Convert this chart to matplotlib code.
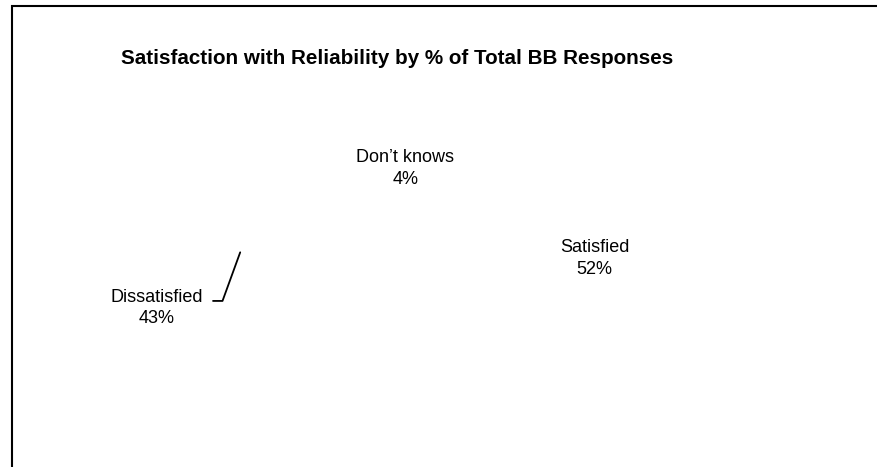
import matplotlib.pyplot as plt
import numpy as np
from matplotlib.patches import Rectangle

plt.rcParams['font.family'] = ['Liberation Sans', 'DejaVu Sans']

labels = ['Satisfied', 'Dissatisfied', 'Don\u2019t knows']
values = [52, 43, 4]
label_dist = [1.03, None, 0.435]

W, H = 877, 467
fig = plt.figure(figsize=(W / 100, H / 100), dpi=100)

# frame round the chart area (open on right and bottom)
fig.patches.append(Rectangle((12 / W, -0.2), 1.2, (H - 6) / H + 0.2,
                             transform=fig.transFigure, fill=False,
                             edgecolor='black', linewidth=1.5))

fig.text(121 / W, 1 - 58 / H, 'Satisfaction with Reliability by % of Total BB Responses',
         fontsize=14.9, fontweight='bold', ha='left', va='center')

# pie centre ~ (415, 244) px, radius 175 px
cx, cy, R = 415, 244, 175
box = 400
ax = fig.add_axes([(cx - box / 2) / W, (H - cy - box / 2) / H, box / W, box / H])

wedges, _ = ax.pie(values, startangle=90, counterclock=False,
                   colors=['white'] * len(values),
                   wedgeprops=dict(linewidth=0))
lim = box / 2 / R
ax.set_xlim(-lim, lim)
ax.set_ylim(-lim, lim)
ax.set_aspect('auto')
ax.axis('off')

for w, lab, v, d in zip(wedges, labels, values, label_dist):
    mid = np.deg2rad((w.theta1 + w.theta2) / 2)
    txt = f'{lab}\n{v}%'
    if d is not None:
        ax.text(d * np.cos(mid), d * np.sin(mid), txt, ha='center', va='center',
                fontsize=13, linespacing=1.35)
    else:
        edge = (np.cos(mid), np.sin(mid))
        ax.annotate(txt, xy=edge, xytext=(-1.474, -0.365), textcoords='data',
                    ha='center', va='center', fontsize=13, linespacing=1.35,
                    arrowprops=dict(arrowstyle='-', color='black', lw=1.3,
                                    relpos=(1.0, 0.68), shrinkA=5, shrinkB=0,
                                    connectionstyle='angle,angleA=0,angleB=70,rad=0'))

fig.savefig('out.png', dpi=100)
